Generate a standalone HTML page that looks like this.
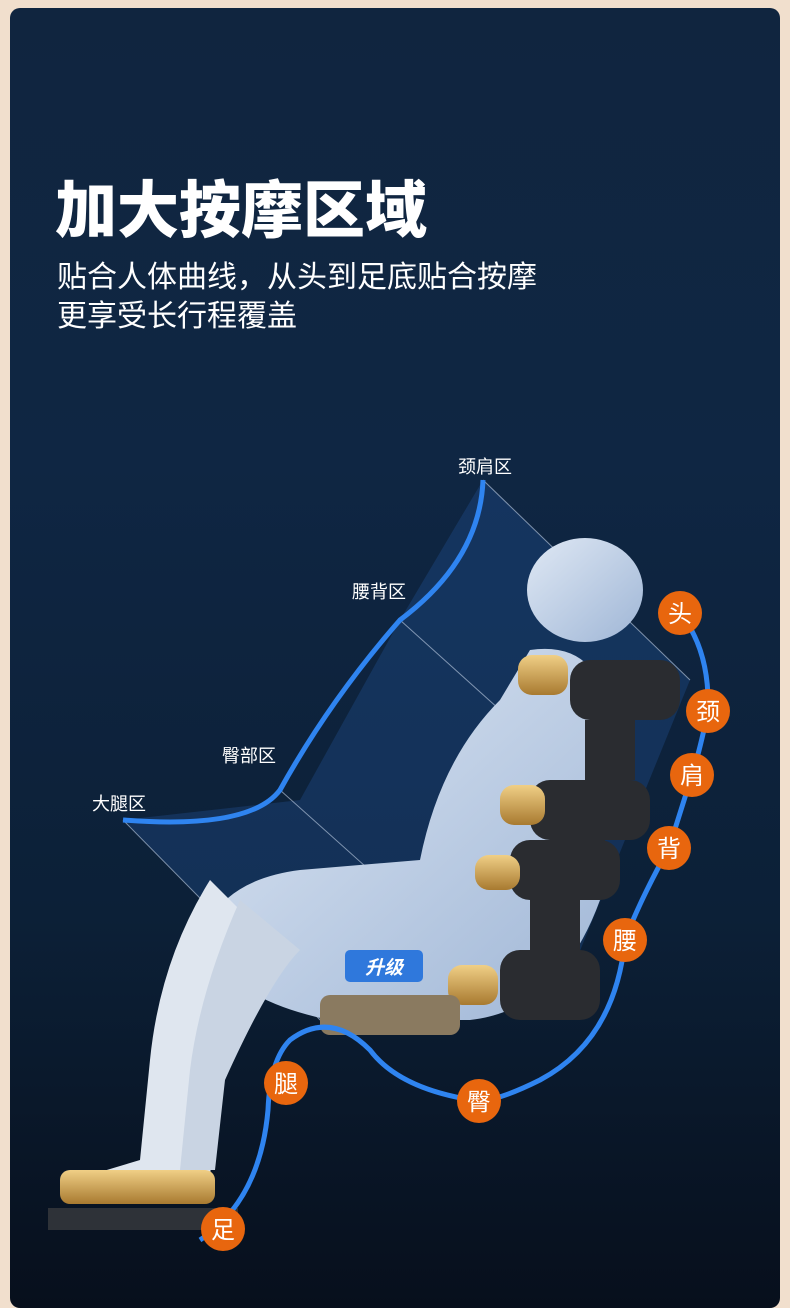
<!DOCTYPE html>
<html><head><meta charset="utf-8"><style>
html,body{margin:0;padding:0;width:790px;height:1298px;overflow:hidden;background:#f1dfcd;}
.card{position:absolute;left:10px;top:8px;width:770px;height:1300px;border-radius:10px;
background:linear-gradient(180deg,#10253f 0%,#0f2643 35%,#0c2037 70%,#070f1c 100%);overflow:hidden}
.t{position:absolute;font-family:"Liberation Sans","Noto Sans CJK SC",sans-serif;color:#fff;}
svg{position:absolute;left:0;top:0}
</style></head><body>
<div class="card"></div>
<div class="t" style="left:55px;top:160px;font-size:62px;font-weight:900;">加大按摩区域</div>
<div class="t" style="left:57px;top:258px;font-size:30px;line-height:39px">贴合人体曲线，从头到足底贴合按摩<br>更享受长行程覆盖</div>
<svg width="790" height="1298" viewBox="0 0 790 1298">
<defs>
<linearGradient id="fig" x1="0" y1="0" x2="1" y2="1"><stop offset="0" stop-color="#dfe8f4"/><stop offset="1" stop-color="#9fb6d6"/></linearGradient>
<linearGradient id="gold" x1="0" y1="0" x2="0" y2="1"><stop offset="0" stop-color="#f0cf86"/><stop offset="1" stop-color="#a87a30"/></linearGradient>
</defs>
<polygon points="123,820 300,800 400,620 483,480 690,680 560,1000 330,1030" fill="#2f6fc8" opacity="0.22"/>
<g stroke="#c8d6ea" stroke-width="1" opacity="0.6">
<line x1="483" y1="480" x2="690" y2="680"/><line x1="400" y1="620" x2="600" y2="800"/>
<line x1="280" y1="790" x2="470" y2="960"/><line x1="123" y1="820" x2="330" y2="1030"/>
</g>
<ellipse cx="585" cy="590" rx="58" ry="52" fill="url(#fig)"/>
<path d="M530 650 Q600 640 610 720 L600 900 Q560 1010 470 1020 L330 1020 Q230 1000 200 940 Q220 880 300 870 L420 860 Q440 760 500 700 Z" fill="url(#fig)"/>
<path d="M210 880 Q160 960 150 1060 L140 1160 L90 1175 L210 1180 L215 1090 Q260 980 290 960 Z" fill="#dfe6ef"/>
<path d="M240 900 Q200 990 190 1070 L180 1170 L215 1170 L225 1080 Q270 980 300 950 Z" fill="#c9d4e3"/>
<g fill="#2a2c30">
<rect x="570" y="660" width="110" height="60" rx="20"/><rect x="585" y="720" width="50" height="60"/>
<rect x="530" y="780" width="120" height="60" rx="20"/><rect x="555" y="840" width="50" height="40"/>
<rect x="510" y="840" width="110" height="60" rx="20"/><rect x="530" y="900" width="50" height="50"/>
<rect x="500" y="950" width="100" height="70" rx="20"/>
</g>
<g fill="url(#gold)">
<rect x="518" y="655" width="50" height="40" rx="14"/><rect x="500" y="785" width="45" height="40" rx="14"/>
<rect x="475" y="855" width="45" height="35" rx="14"/><rect x="448" y="965" width="50" height="40" rx="14"/>
<rect x="60" y="1170" width="155" height="34" rx="10"/>
</g>
<rect x="320" y="995" width="140" height="40" rx="10" fill="#8a7a60"/>
<rect x="48" y="1208" width="190" height="22" fill="#2e3238"/>
<rect x="345" y="950" width="78" height="32" rx="5" fill="#2f78dc"/>
<text x="384" y="974" fill="#fff" font-size="19" font-weight="bold" font-style="italic" text-anchor="middle" font-family="Liberation Sans,Noto Sans CJK SC,sans-serif">升级</text>
<path d="M123 820 Q250 830 280 790 Q330 700 400 620 Q480 560 483 480" fill="none" stroke="#2f84f0" stroke-width="5"/>
<path d="M680 613 Q710 650 708 711 Q700 750 692 775 L669 848 Q640 900 625 940 Q615 1040 540 1080 Q500 1100 479 1101 Q400 1090 370 1050 Q330 1010 290 1040 Q270 1060 268 1110 Q260 1200 200 1240" fill="none" stroke="#2f84f0" stroke-width="5"/>
<g font-family="Liberation Sans,Noto Sans CJK SC,sans-serif" font-size="18" fill="#fff">
<text x="458" y="473">颈肩区</text><text x="352" y="598">腰背区</text><text x="222" y="762">臀部区</text><text x="92" y="810">大腿区</text>
</g>
<g font-family="Liberation Sans,Noto Sans CJK SC,sans-serif" font-size="24" fill="#fff" text-anchor="middle">
<g fill="#e8660e"><circle cx="680" cy="613" r="22"/><circle cx="708" cy="711" r="22"/><circle cx="692" cy="775" r="22"/><circle cx="669" cy="848" r="22"/><circle cx="625" cy="940" r="22"/><circle cx="479" cy="1101" r="22"/><circle cx="286" cy="1083" r="22"/><circle cx="223" cy="1229" r="22"/></g>
<text x="680" y="622">头</text><text x="708" y="720">颈</text><text x="692" y="784">肩</text><text x="669" y="857">背</text><text x="625" y="949">腰</text><text x="479" y="1110">臀</text><text x="286" y="1092">腿</text><text x="223" y="1238">足</text>
</g>
</svg>
</body></html>
